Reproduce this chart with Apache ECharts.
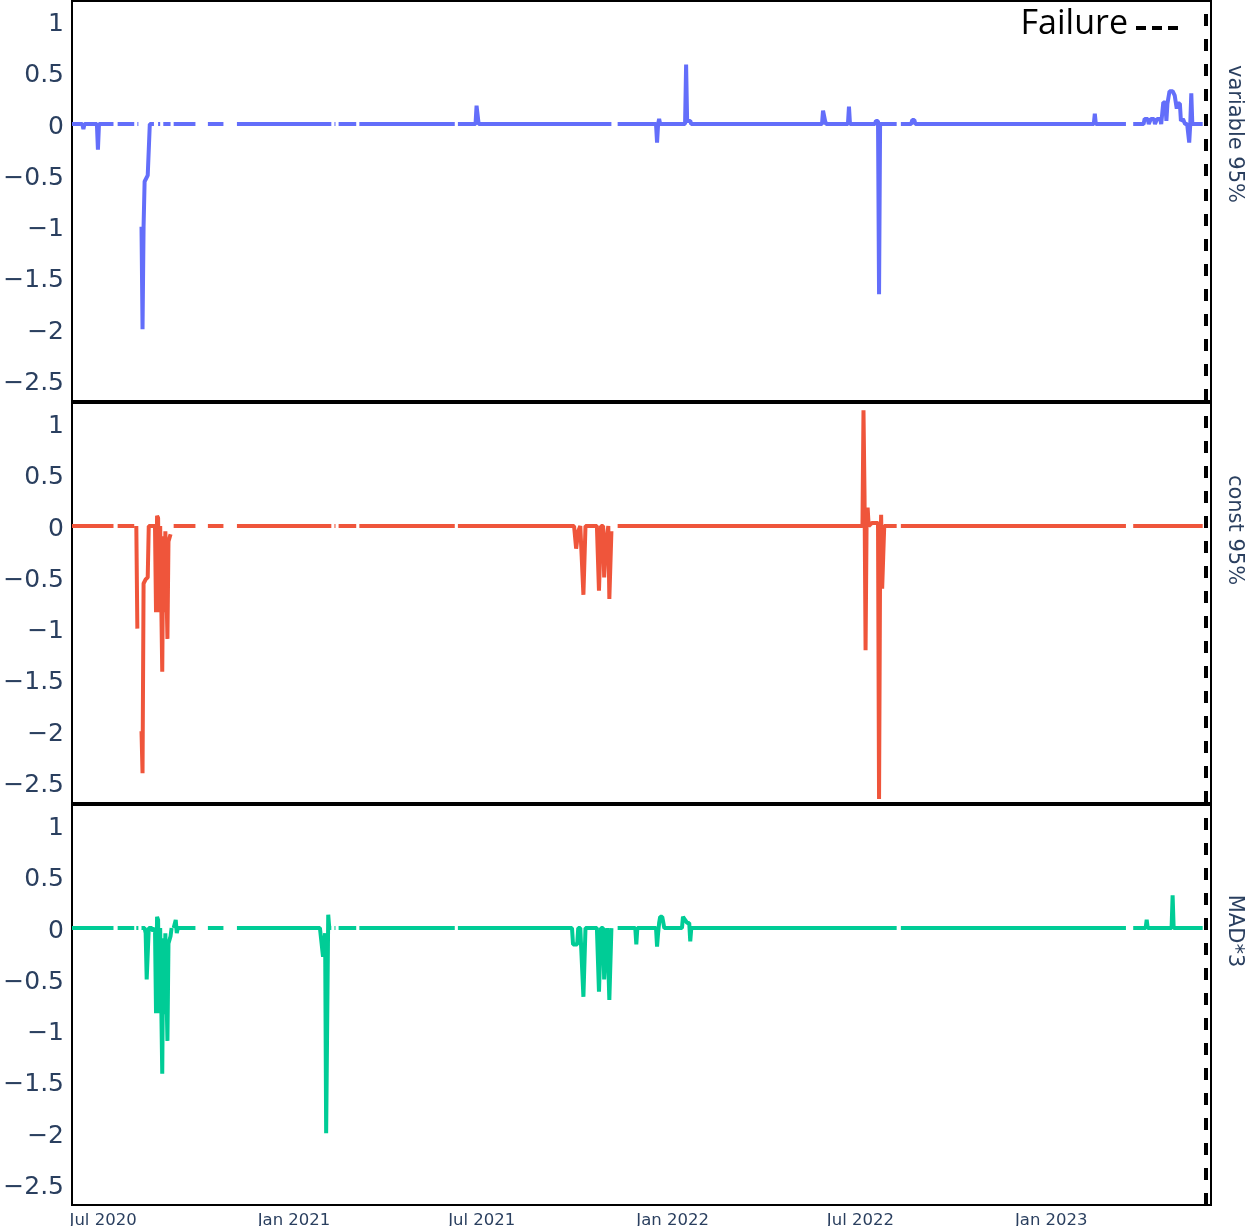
<!DOCTYPE html>
<html>
<head>
<meta charset="utf-8">
<script src="https://cdn.jsdelivr.net/npm/echarts@6/dist/echarts.min.js"></script>
<style>
html,body{margin:0;padding:0;background:#fff;}
#chart{width:1246px;height:1226px;}
</style>
</head>
<body>
<div id="chart"></div>
<script>
// ---------- data ----------
const xStart = '2020-06-01';
const xEnd = '2023-06-04';
const failureDate = '2023-05-30';
const tickDates = ['2020-07-01','2021-01-01','2021-07-01','2022-01-01','2022-07-01','2023-01-01'];
const tickLabels = ['Jul 2020','Jan 2021','Jul 2021','Jan 2022','Jul 2022','Jan 2023'];
const yTicks = [-2.5,-2,-1.5,-1,-0.5,0,0.5,1];
const panelNames = ['variable 95%','const 95%','MAD*3'];
const seriesColors = ['#636efa','#EF553B','#00cc96'];

const variable95 = [
['2020-06-01',0],['2020-06-11',0],['2020-06-12',-0.05],['2020-06-13',0],['2020-06-25',0],['2020-06-26',-0.25],['2020-06-27',0],['2020-07-11',0],['2020-07-12',null],
['2020-07-15',0],['2020-07-31',0],['2020-08-01',null],
['2020-08-03',0],['2020-08-04',0],['2020-08-05',null],
['2020-08-07',-1.0],['2020-08-08',-2.0],['2020-08-09',-1.0],['2020-08-10',-0.56],['2020-08-11',-0.55],['2020-08-13',-0.5],['2020-08-15',0],['2020-08-19',0],['2020-08-20',null],
['2020-08-23',0],['2020-08-25',0],['2020-08-26',null],
['2020-08-28',0],['2020-09-04',0],['2020-09-05',null],
['2020-09-07',0],['2020-09-28',0],['2020-09-29',null],
['2020-10-10',0],['2020-10-25',0],['2020-10-26',null],
['2020-11-07',0],['2021-02-06',0],['2021-02-07',null],['2021-02-09',0],['2021-02-10',0],['2021-02-11',null],
['2021-02-13',0],['2021-03-02',0],['2021-03-03',null],['2021-03-05',0],['2021-06-05',0],['2021-06-06',null],
['2021-06-08',0],['2021-06-25',0],['2021-06-26',0.18],['2021-06-27',0.18],['2021-06-28',0],['2021-11-03',0],['2021-11-04',null],
['2021-11-09',0],['2021-12-16',0],['2021-12-17',-0.18],['2021-12-18',0],['2021-12-19',0.05],['2021-12-20',0],
['2022-01-13',0],['2022-01-14',0.58],['2022-01-15',0.03],['2022-01-18',0.03],['2022-01-19',0],
['2022-05-25',0],['2022-05-26',0.13],['2022-05-28',0.03],['2022-05-29',0],['2022-06-19',0],['2022-06-20',0.17],['2022-06-21',0],
['2022-07-15',0],['2022-07-16',0.03],['2022-07-18',0.03],['2022-07-19',-1.66],['2022-07-20',0],['2022-08-05',0],['2022-08-06',null],
['2022-08-09',0],['2022-08-19',0],['2022-08-20',0.04],['2022-08-22',0.04],['2022-08-23',0],
['2023-02-11',0],['2023-02-12',0.1],['2023-02-13',0],['2023-03-14',0],['2023-03-15',null],
['2023-03-21',0],['2023-03-31',0],['2023-04-01',0.05],['2023-04-04',0.05],['2023-04-05',0],['2023-04-07',0.05],['2023-04-10',0.05],['2023-04-11',0],
['2023-04-13',0.05],['2023-04-16',0.05],['2023-04-17',0],['2023-04-19',0.21],['2023-04-21',0.21],['2023-04-22',0.03],['2023-04-23',0.2],
['2023-04-25',0.32],['2023-04-28',0.32],['2023-04-30',0.28],['2023-05-02',0.15],['2023-05-03',0.2],['2023-05-05',0.2],['2023-05-06',0.03],
['2023-05-08',0.05],['2023-05-09',0.05],['2023-05-10',0],['2023-05-12',0],['2023-05-14',-0.18],['2023-05-15',0],['2023-05-16',0.3],['2023-05-17',0],['2023-05-27',0]
];

const const95 = [
['2020-06-01',0],['2020-07-11',0],['2020-07-12',null],
['2020-07-15',0],['2020-07-31',0],['2020-08-01',null],
['2020-08-02',0],['2020-08-03',-1.0],['2020-08-04',null],
['2020-08-07',-2.0],['2020-08-08',-2.41],['2020-08-09',-0.56],['2020-08-11',-0.52],['2020-08-13',-0.5],['2020-08-14',0],['2020-08-20',0],
['2020-08-21',-0.84],['2020-08-22',0.1],['2020-08-23',0.08],['2020-08-24',-0.84],['2020-08-25',0],['2020-08-27',-1.42],['2020-08-28',-0.1],
['2020-08-29',-0.84],['2020-08-30',-0.05],['2020-08-31',-0.05],['2020-09-01',-1.1],['2020-09-02',-0.15],['2020-09-04',-0.08],['2020-09-05',null],
['2020-09-07',0],['2020-09-28',0],['2020-09-29',null],
['2020-10-10',0],['2020-10-25',0],['2020-10-26',null],
['2020-11-07',0],['2021-02-06',0],['2021-02-07',null],['2021-02-09',0],['2021-02-10',0],['2021-02-11',null],
['2021-02-13',0],['2021-03-02',0],['2021-03-03',null],['2021-03-05',0],['2021-06-05',0],['2021-06-06',null],
['2021-06-08',0],['2021-09-28',0],['2021-09-30',-0.22],['2021-10-02',-0.05],['2021-10-04',0],['2021-10-07',-0.67],['2021-10-09',0],
['2021-10-20',0],['2021-10-22',-0.63],['2021-10-24',0],['2021-10-26',0],['2021-10-27',-0.5],['2021-10-29',-0.14],['2021-10-31',0],
['2021-11-01',-0.71],['2021-11-03',-0.05],['2021-11-04',null],
['2021-11-09',0],['2022-07-03',0],['2022-07-04',1.13],['2022-07-05',0.3],['2022-07-06',-1.21],['2022-07-07',0.05],['2022-07-08',0.18],['2022-07-09',0],
['2022-07-12',0.03],['2022-07-18',0.03],['2022-07-19',-2.66],['2022-07-20',-0.4],['2022-07-21',0.11],['2022-07-22',-0.61],['2022-07-23',-0.3],['2022-07-24',0],
['2022-08-05',0],['2022-08-06',null],
['2022-08-09',0],['2023-03-14',0],['2023-03-15',null],
['2023-03-21',0],['2023-05-27',0]
];

const mad3 = [
['2020-06-01',0],['2020-07-11',0],['2020-07-12',null],
['2020-07-15',0],['2020-07-31',0],['2020-08-01',null],
['2020-08-02',0],['2020-08-04',0],['2020-08-05',null],
['2020-08-07',0],['2020-08-10',0],['2020-08-11',-0.05],['2020-08-12',-0.5],['2020-08-13',-0.5],['2020-08-14',0],['2020-08-17',0],['2020-08-18',-0.03],['2020-08-20',0],
['2020-08-21',-0.83],['2020-08-22',0.11],['2020-08-23',0.08],['2020-08-24',-0.83],['2020-08-25',0],['2020-08-27',-1.42],['2020-08-28',-0.1],
['2020-08-29',-0.84],['2020-08-30',-0.05],['2020-08-31',-0.05],['2020-09-01',-1.1],['2020-09-02',-0.15],['2020-09-04',-0.08],['2020-09-05',0],['2020-09-06',null],
['2020-09-07',0],['2020-09-09',0.08],['2020-09-10',-0.05],['2020-09-11',0],['2020-09-28',0],['2020-09-29',null],
['2020-10-10',0],['2020-10-25',0],['2020-10-26',null],
['2020-11-07',0],['2021-01-26',0],['2021-01-29',-0.28],['2021-01-31',-0.05],['2021-02-01',-2.0],['2021-02-03',0.13],['2021-02-04',0],['2021-02-06',0],['2021-02-07',null],
['2021-02-09',0],['2021-02-10',0],['2021-02-11',null],
['2021-02-13',0],['2021-03-02',0],['2021-03-03',null],['2021-03-05',0],['2021-06-05',0],['2021-06-06',null],
['2021-06-08',0],['2021-09-26',0],['2021-09-27',-0.16],['2021-10-01',-0.16],['2021-10-02',0],['2021-10-04',0],['2021-10-07',-0.67],['2021-10-09',0],
['2021-10-20',0],['2021-10-22',-0.62],['2021-10-24',0],['2021-10-26',0],['2021-10-27',-0.5],['2021-10-29',-0.1],['2021-10-30',0],
['2021-11-01',-0.7],['2021-11-03',0],['2021-11-04',null],
['2021-11-09',0],['2021-11-26',0],['2021-11-27',-0.16],['2021-11-28',0],['2021-12-16',0],['2021-12-17',-0.18],['2021-12-18',-0.05],['2021-12-19',0.05],
['2021-12-20',0.11],['2021-12-22',0.11],['2021-12-24',0],['2022-01-10',0],['2022-01-11',0.11],['2022-01-12',0.11],['2022-01-15',0.05],['2022-01-17',0.05],
['2022-01-18',-0.13],['2022-01-19',0],['2022-08-05',0],['2022-08-06',null],
['2022-08-09',0],['2023-03-14',0],['2023-03-15',null],
['2023-03-21',0],['2023-04-02',0],['2023-04-03',0.08],['2023-04-04',0],['2023-04-27',0],['2023-04-28',0.32],['2023-04-29',0],['2023-05-27',0]
];

// ---------- chart ----------
const panelData = [variable95, const95, mad3];
function localTs(s){ const p = s.split('-').map(Number); return new Date(p[0], p[1]-1, p[2]).getTime(); }
const tickTs = tickDates.map(localTs);
const fmtY = v => '{t|' + (v < 0 ? '\u2212' + Math.abs(v) : String(v)) + '}';

const L = 72, W = 1139, H = 400, tops = [1, 403, 805], nameOffsets = [133, 127, 126];
const chart = echarts.init(document.getElementById('chart'), null, {renderer: 'canvas'});

const grids = [], xAxes = [], yAxes = [], series = [], graphics = [];
panelData.forEach((d, i) => {
  grids.push({left: L, width: W, top: tops[i], height: H, show: true, borderColor: '#000', borderWidth: 2,
    backgroundColor: 'transparent', containLabel: false, outerBoundsMode: 'none'});
  xAxes.push({
    type: 'value', gridIndex: i, min: localTs(xStart), max: localTs(xEnd),
    axisLine: {show: false}, axisTick: {show: false}, splitLine: {show: false},
    axisLabel: {
      show: i === 2, customValues: tickTs, margin: 7, showMinLabel: true, showMaxLabel: true,
      fontFamily: 'DejaVu Sans', fontSize: 16.5, color: '#2a3f5f',
      formatter: v => { const k = tickTs.indexOf(v); return k >= 0 ? tickLabels[k] : ''; }
    }
  });
  yAxes.push({
    type: 'value', gridIndex: i, min: -2.7, max: 1.2,
    axisLine: {show: false}, axisTick: {show: false}, splitLine: {show: false},
    axisLabel: {
      customValues: yTicks, formatter: fmtY, margin: 8,
      rich: {t: {fontFamily: 'DejaVu Sans', fontSize: 25, color: '#2a3f5f', padding: [6, 0, 0, 0]}}
    }
  });
  series.push({
    type: 'line', name: panelNames[i], xAxisIndex: i, yAxisIndex: i,
    data: d.map(p => [localTs(p[0]), p[1]]), showSymbol: false, symbol: 'none', connectNulls: false,
    lineStyle: {color: seriesColors[i], width: 4}, itemStyle: {color: seriesColors[i]},
    animation: false, silent: true, z: 3,
    markLine: {
      silent: true, symbol: 'none', animation: false, label: {show: false},
      lineStyle: {color: '#000', width: 4, type: [12, 13]},
      data: [{xAxis: localTs(failureDate)}]
    }
  });
  graphics.push({
    type: 'text', x: 1234, y: tops[i] + nameOffsets[i], rotation: -Math.PI / 2,
    style: {text: panelNames[i], fill: '#2a3f5f', font: '21px "DejaVu Sans"', textAlign: 'center', textVerticalAlign: 'middle'}
  });
});
graphics.push({type: 'text', x: 1128, y: 24, style: {text: 'Failure', fill: '#000', font: '34px "Open Sans"', textAlign: 'right', textVerticalAlign: 'middle'}});
graphics.push({type: 'line', shape: {x1: 1136, y1: 28, x2: 1178, y2: 28}, style: {stroke: '#000', lineWidth: 4, lineDash: [10, 6]}});

chart.setOption({
  animation: false,
  backgroundColor: '#fff',
  grid: grids, xAxis: xAxes, yAxis: yAxes, series: series, graphic: graphics
});
</script>
</body>
</html>
